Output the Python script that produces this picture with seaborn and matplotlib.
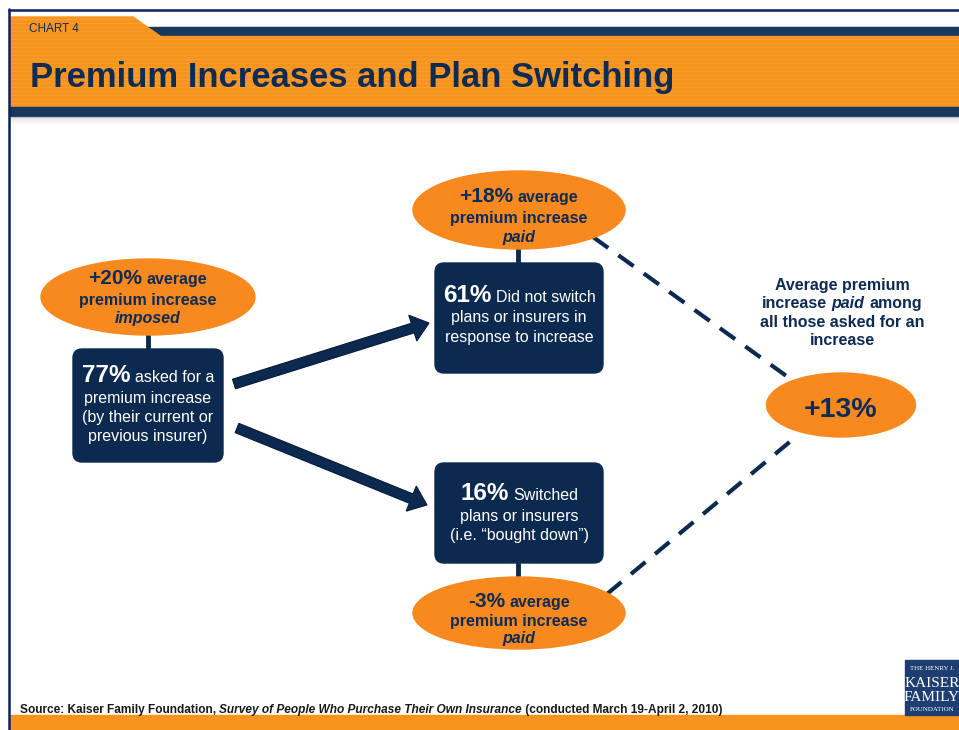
import matplotlib
matplotlib.use("Agg")
import matplotlib.pyplot as plt
import seaborn as sns
from matplotlib.patches import Ellipse, FancyBboxPatch, Rectangle, Polygon, FancyArrow

# values shown in the flow diagram
share_pct = [77, 61, 16]          # asked for increase, did not switch, switched
avg_change_pct = [20, 18, -3, 13]  # imposed, paid (stayed), paid (switched), paid overall
box_text = [
    ["asked for a", "premium increase", "(by their current or", "previous insurer)"],
    ["Did not switch", "plans or insurers in", "response to increase"],
    ["Switched", "plans or insurers", "(i.e. \u201cbought down\u201d)"],
]
ellipse_tail = ["imposed", "paid", "paid"]

title = "Premium Increases and Plan Switching"
source_runs = [("Source: Kaiser Family Foundation, ", "normal"),
               ("Survey of People Who Purchase Their Own Insurance", "italic"),
               (" (conducted March 19-April 2, 2010)", "normal")]

sns.set_theme(style="white")
plt.rcParams['font.family'] = ['Liberation Sans', 'DejaVu Sans']

ORANGE = "#F7891F"
NAVY = "#0C2A50"
TXT_NAVY = "#0E2B55"
BAND_NAVY = "#17375E"

fig = plt.figure(figsize=(9.59, 7.30), dpi=100)
ax = fig.add_axes([0, 0, 1, 1])
ax.set_xlim(0, 959)
ax.set_ylim(730, 0)
ax.axis("off")
renderer = fig.canvas.get_renderer()


def run_line(x, y, runs, color, ha="center", zorder=6):
    # runs: (text, size, weight, style, space_before)
    texts, widths, gaps = [], [], []
    for s, size, weight, style, sp in runs:
        t = ax.text(0, y, s, fontsize=size, fontweight=weight, fontstyle=style,
                    color=color, va="baseline", ha="left", zorder=zorder)
        texts.append(t)
        widths.append(t.get_window_extent(renderer).width)
        gaps.append(0.278 * size * 100 / 72 if sp else 0)
    total = sum(widths) + sum(gaps)
    cur = x - total / 2 if ha == "center" else x
    for t, w, g in zip(texts, widths, gaps):
        cur += g
        t.set_x(cur)
        cur += w


# ---- header ----
ax.add_patch(Rectangle((140, 27), 819, 9, color=BAND_NAVY, zorder=1))
ax.add_patch(Polygon([(10, 17), (133, 17), (160, 36), (10, 36)], closed=True,
                     color="#F7941D", zorder=2))
ax.add_patch(Rectangle((10, 36), 949, 71, color="#F7941D", zorder=1))
for yy in range(19, 107, 4):
    x_end = 959 if yy > 36 else 133 + (yy - 17) * 27 / 19
    ax.plot([10, x_end], [yy, yy], color="#FBB866", lw=0.8, alpha=0.25, zorder=2)
ax.add_patch(Rectangle((10, 107), 949, 9, color=BAND_NAVY, zorder=2))
for i in range(8):
    ax.add_patch(Rectangle((10, 116 + i), 949, 1, color="#7A7A7A",
                           alpha=0.25 * (1 - i / 8), lw=0, zorder=2))
ax.text(29, 32, "CHART 4", fontsize=8.5, color=TXT_NAVY, va="baseline", zorder=3)
ax.text(30, 87, title, fontsize=24.9, fontweight="bold", color=TXT_NAVY,
        va="baseline", zorder=3)

# border + footer
ax.plot([9, 9], [9, 730], color="#0B2160", lw=1.8, zorder=5)
ax.plot([9, 959], [10, 10], color="#0B2160", lw=1.8, zorder=5)
ax.add_patch(Rectangle((10, 715), 949, 15, color="#F7941D", zorder=1))

# source line
x0 = 20
for s, style in source_runs:
    t = ax.text(x0, 713, s, fontsize=8.6, fontweight="bold", fontstyle=style,
                color="#1A1A1A", va="baseline", zorder=3)
    x0 += t.get_window_extent(renderer).width

# logo
ax.add_patch(Rectangle((905, 660), 54, 55, color="#1E3E72", zorder=3))
logo_lines = [("THE HENRY J.", 5.0, 670), ("KAISER", 11, 687), ("FAMILY", 11, 701),
              ("FOUNDATION", 5.0, 711)]
for s, size, yy in logo_lines:
    ax.text(932, yy, s, fontsize=size, family="Liberation Serif", color="white",
            ha="center", va="baseline", zorder=4)

# ---- diagram ----
# dashed connectors to overall average
ax.plot([593, 792], [237, 380], color=NAVY, lw=3, ls=(0, (4.5, 3)), zorder=2)
ax.plot([607, 792], [594, 440], color=NAVY, lw=3, ls=(0, (4.5, 3)), zorder=2)

# arrows
arrow_kw = dict(width=10, head_width=27, head_length=17, length_includes_head=True,
                fc=NAVY, ec="#061A36", lw=0.8, zorder=3)
ax.add_patch(FancyArrow(234, 384, 429 - 234, 323 - 384, **arrow_kw))
ax.add_patch(FancyArrow(237, 428, 427 - 237, 505 - 428, **arrow_kw))

# ellipses: (cx, cy, w, h)
ell = [(148, 297, 214, 76), (519, 210, 212, 78), (519, 613, 212, 72), (841, 405, 149, 64)]
for cx, cy, w, h in ell:
    ax.add_patch(Ellipse((cx, cy), w, h, color=ORANGE, zorder=4))

# rounded boxes: (x, y, w, h)
boxes = [(73, 349, 150, 113), (435, 263, 168, 110), (435, 463, 168, 100)]
for x, y, w, h in boxes:
    ax.add_patch(FancyBboxPatch((x, y), w, h, boxstyle="round,pad=0,rounding_size=9",
                                fc=NAVY, ec=NAVY, zorder=4))

# short vertical connectors
for x, y1, y2 in [(148, 335, 349), (518, 249, 263), (518, 563, 578)]:
    ax.plot([x, x], [y1, y2], color=NAVY, lw=3.5, zorder=3)

# ellipse labels
ell_base = [(284, 305, 323), (202, 223, 242), (607, 626, 643)]
for (cx, cy, w, h), val, tail, (b1, b2, b3) in zip(ell[:3], avg_change_pct[:3], ellipse_tail, ell_base):
    run_line(cx, b1, [(f"{val:+d}%", 15, "bold", "normal", False),
                      ("average", 11.5, "bold", "normal", True)], TXT_NAVY)
    run_line(cx, b2, [("premium increase", 11.5, "bold", "normal", False)], TXT_NAVY)
    run_line(cx, b3, [(tail, 11.5, "bold", "italic", False)], TXT_NAVY)

# box labels
box_base = [(382, 403, 422, 441), (302, 322, 342), (500, 521, 540)]
for (x, y, w, h), val, lines, bases in zip(boxes, share_pct, box_text, box_base):
    cx = x + w / 2
    run_line(cx, bases[0], [(f"{val}%", 17.5, "bold", "normal", False),
                            (lines[0], 11.5, "normal", "normal", True)], "white")
    for s, b in zip(lines[1:], bases[1:]):
        run_line(cx, b, [(s, 11.5, "normal", "normal", False)], "white")

# overall average
run_line(841, 417, [(f"{avg_change_pct[3]:+d}%", 20.5, "bold", "normal", False)], TXT_NAVY)
run_line(842, 290, [("Average premium", 11.5, "bold", "normal", False)], TXT_NAVY)
run_line(842, 308, [("increase", 11.5, "bold", "normal", False),
                    ("paid", 11.5, "bold", "italic", True),
                    ("among", 11.5, "bold", "normal", True)], TXT_NAVY)
run_line(842, 327, [("all those asked for an", 11.5, "bold", "normal", False)], TXT_NAVY)
run_line(842, 345, [("increase", 11.5, "bold", "normal", False)], TXT_NAVY)

fig.savefig("out.png", dpi=100, facecolor="white")
